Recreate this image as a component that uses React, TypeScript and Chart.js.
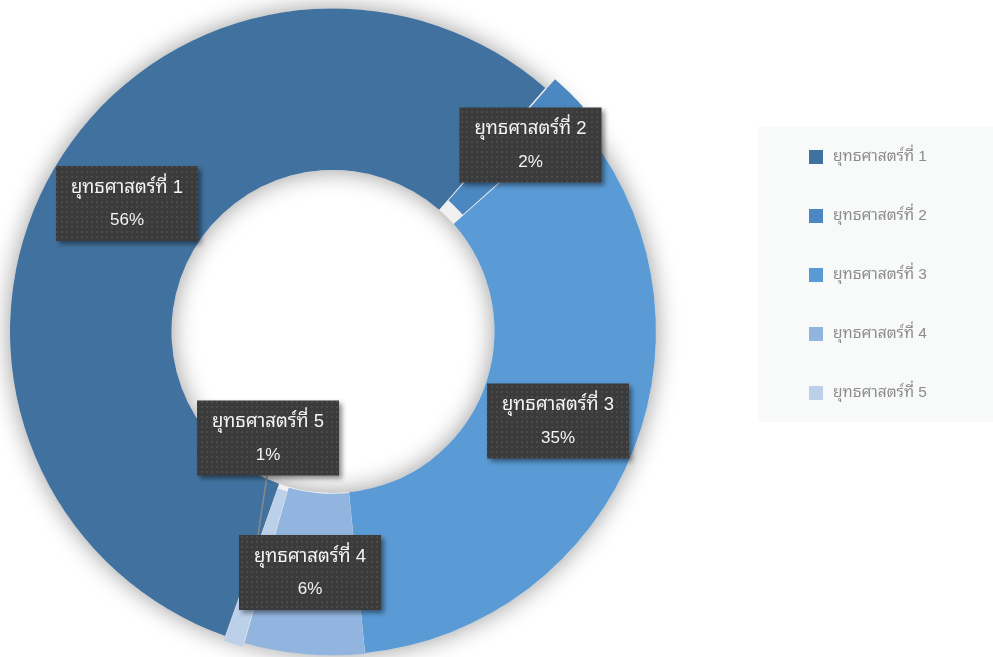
import React, { useEffect, useRef } from 'react';
import { Chart, registerables } from 'chart.js';

Chart.register(...registerables);

// ---- data ----
const categories = ['ยุทธศาสตร์ที่ 1', 'ยุทธศาสตร์ที่ 2', 'ยุทธศาสตร์ที่ 3', 'ยุทธศาสตร์ที่ 4', 'ยุทธศาสตร์ที่ 5'];
const values = [56, 2, 35, 6, 1];

// ---- styles / layout (not data) ----
const colors = ['#41729f', '#4b87c0', '#5a9bd6', '#92b5df', '#bcd0ea'];
const explode = [0, 28, 0, 2, 10];
const labelCenters: [number, number][] = [
  [127, 203.5],
  [530.5, 145],
  [558, 421],
  [310, 572.5],
  [268, 438],
];
const FONT = "'Liberation Sans', 'Noto Sans Thai Looped', Loma, Garuda, 'Noto Serif Thai', Tahoma, sans-serif";
const W = 993;
const H = 657;
const RADIUS = 323;

function makePattern(ctx: CanvasRenderingContext2D) {
  const pc = document.createElement('canvas');
  pc.width = 5;
  pc.height = 5;
  const p = pc.getContext('2d')!;
  p.fillStyle = '#3b3b3b';
  p.fillRect(0, 0, 5, 5);
  p.fillStyle = '#4a4a4a';
  p.fillRect(1, 1, 2, 2);
  return ctx.createPattern(pc, 'repeat');
}

const shadowRing = {
  id: 'shadowRing',
  beforeDatasetsDraw(chart: any) {
    const meta = chart.getDatasetMeta(0);
    const a = meta.data[0];
    if (!a) return;
    const { x, y, outerRadius, innerRadius } = a.getProps(['x', 'y', 'outerRadius', 'innerRadius'], true);
    const ctx = chart.ctx as CanvasRenderingContext2D;
    ctx.save();
    ctx.beginPath();
    ctx.arc(x, y, outerRadius, 0, Math.PI * 2);
    ctx.arc(x, y, innerRadius, 0, Math.PI * 2, true);
    ctx.closePath();
    ctx.shadowColor = 'rgba(0,0,0,0.4)';
    ctx.shadowBlur = 24;
    ctx.fillStyle = '#f0f0f0';
    ctx.fill();
    ctx.restore();
  },
};

const labelsPlugin = {
  id: 'boxLabels',
  afterDraw(chart: any) {
    const ctx = chart.ctx as CanvasRenderingContext2D;
    const total = values.reduce((s, v) => s + v, 0);
    const pattern = makePattern(ctx);

    // legend panel
    ctx.save();
    ctx.fillStyle = '#f8f9f9';
    ctx.fillRect(758, 127, 235, 295);
    ctx.font = `15.5px ${FONT}`;
    ctx.textBaseline = 'middle';
    ctx.textAlign = 'left';
    categories.forEach((c, i) => {
      const yy = 157 + i * 59;
      ctx.fillStyle = colors[i];
      ctx.fillRect(809, yy - 7, 14, 14);
      ctx.fillStyle = '#8c8c8c';
      ctx.fillText(c, 833, yy);
    });
    ctx.restore();

    // leader line for label 5
    ctx.save();
    ctx.strokeStyle = '#8a8a8a';
    ctx.lineWidth = 1.5;
    ctx.beginPath();
    ctx.moveTo(267, 476);
    ctx.lineTo(258, 535);
    ctx.stroke();
    ctx.restore();

    const order = [0, 1, 2, 4, 3];
    order.forEach((i) => {
      const [cx, cy] = labelCenters[i];
      const bw = 142;
      const bh = 75;
      ctx.save();
      ctx.shadowColor = 'rgba(0,0,0,0.45)';
      ctx.shadowBlur = 5;
      ctx.shadowOffsetX = 3;
      ctx.shadowOffsetY = 3;
      ctx.fillStyle = pattern || '#3b3b3b';
      ctx.fillRect(cx - bw / 2, cy - bh / 2, bw, bh);
      ctx.restore();
      ctx.save();
      ctx.fillStyle = '#f4f4f4';
      ctx.textAlign = 'center';
      ctx.textBaseline = 'middle';
      ctx.font = `18.5px ${FONT}`;
      ctx.fillText(categories[i], cx, cy - 16);
      ctx.font = `17px ${FONT}`;
      ctx.fillText(Math.round((values[i] / total) * 100) + '%', cx, cy + 17);
      ctx.restore();
    });
  },
};

export default function App() {
  const ref = useRef<HTMLCanvasElement>(null);
  useEffect(() => {
    document.body.style.margin = '0';
    const chart = new Chart(ref.current!, {
      type: 'doughnut',
      data: {
        labels: categories,
        datasets: [
          {
            data: values,
            backgroundColor: colors,
            borderWidth: 0,
            offset: explode,
          },
        ],
      },
      options: {
        responsive: false,
        animation: false,
        rotation: 199.5,
        radius: RADIUS,
        cutout: '50%',
        layout: { padding: { left: 0, right: W - 666, top: 6, bottom: 0 } },
        plugins: {
          legend: { display: false },
          tooltip: { enabled: false },
        },
      },
      plugins: [shadowRing, labelsPlugin],
    });
    return () => chart.destroy();
  }, []);
  return (
    <div style={{ position: 'fixed', left: 0, top: 0, width: W, height: H, background: '#ffffff' }}>
      <canvas ref={ref} width={W} height={H} />
    </div>
  );
}
